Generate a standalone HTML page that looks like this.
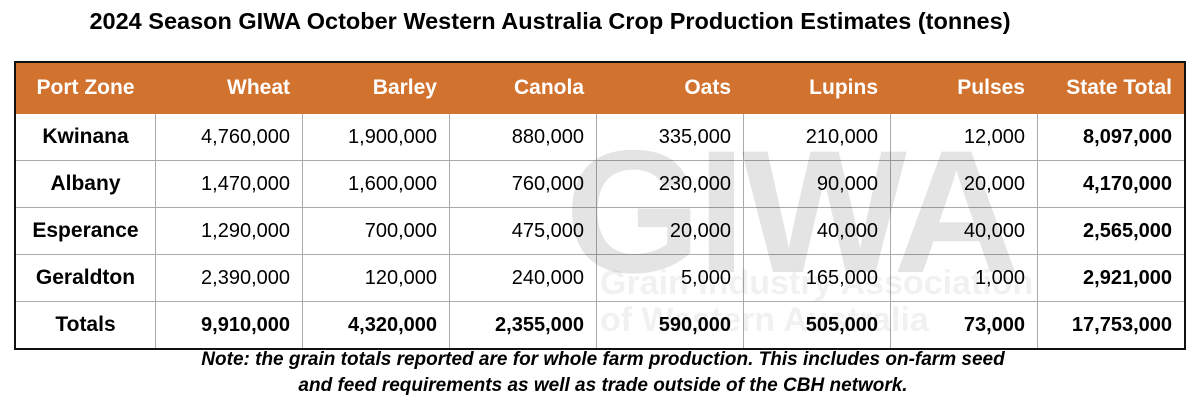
<!DOCTYPE html>
<html><head><meta charset="utf-8"><style>
body{margin:0;width:1200px;height:410px;background:#fff;position:relative;overflow:hidden;font-family:"Liberation Sans",sans-serif}
#title{position:absolute;left:0;width:1100px;top:8px;text-align:center;font-weight:bold;font-size:23.5px;color:#000}
#wm{position:absolute;left:565px;top:125px;font-size:175px;font-weight:bold;color:#000;opacity:0.1;line-height:1;letter-spacing:-4px}
#wm2{position:absolute;left:600px;top:265px;font-size:34px;font-weight:bold;color:#000;opacity:0.05;line-height:1.1}
table{position:absolute;left:14px;top:61px;border-collapse:collapse;border:2px solid #111}
td,th{border:1px solid #aaa;padding:0 12px 0 0;text-align:right;font-size:20px;height:46px;width:134px}
th{background:#d2722f;color:#fff;font-family:"Liberation Sans Narrow","Liberation Sans",sans-serif;font-size:21px;height:50px;border-color:#d2722f}
td.z,th.z{text-align:center;padding:0;width:139px}
td.z{font-weight:bold;font-family:"Liberation Sans Narrow","Liberation Sans",sans-serif;font-size:21px}
td.b{font-weight:bold}
tr.tot td{font-weight:bold}
#note{position:absolute;left:0;width:1206px;top:347px;text-align:center;font-weight:bold;font-style:italic;font-size:19px;line-height:26px}
</style></head><body>
<div id="title">2024 Season GIWA October Western Australia Crop Production Estimates (tonnes)</div>
<table>
<tr><th class="z">Port Zone</th><th>Wheat</th><th>Barley</th><th>Canola</th><th>Oats</th><th>Lupins</th><th>Pulses</th><th>State Total</th></tr>
<tr><td class="z">Kwinana</td><td>4,760,000</td><td>1,900,000</td><td>880,000</td><td>335,000</td><td>210,000</td><td>12,000</td><td class="b">8,097,000</td></tr>
<tr><td class="z">Albany</td><td>1,470,000</td><td>1,600,000</td><td>760,000</td><td>230,000</td><td>90,000</td><td>20,000</td><td class="b">4,170,000</td></tr>
<tr><td class="z">Esperance</td><td>1,290,000</td><td>700,000</td><td>475,000</td><td>20,000</td><td>40,000</td><td>40,000</td><td class="b">2,565,000</td></tr>
<tr><td class="z">Geraldton</td><td>2,390,000</td><td>120,000</td><td>240,000</td><td>5,000</td><td>165,000</td><td>1,000</td><td class="b">2,921,000</td></tr>
<tr class="tot"><td class="z">Totals</td><td>9,910,000</td><td>4,320,000</td><td>2,355,000</td><td>590,000</td><td>505,000</td><td>73,000</td><td>17,753,000</td></tr>
</table>
<div id="wm">GIWA</div>
<div id="wm2">Grain Industry Association<br>of Western Australia</div>
<div id="note">Note: the grain totals reported are for whole farm production. This includes on-farm seed<br>and feed requirements as well as trade outside of the CBH network.</div>
</body></html>
